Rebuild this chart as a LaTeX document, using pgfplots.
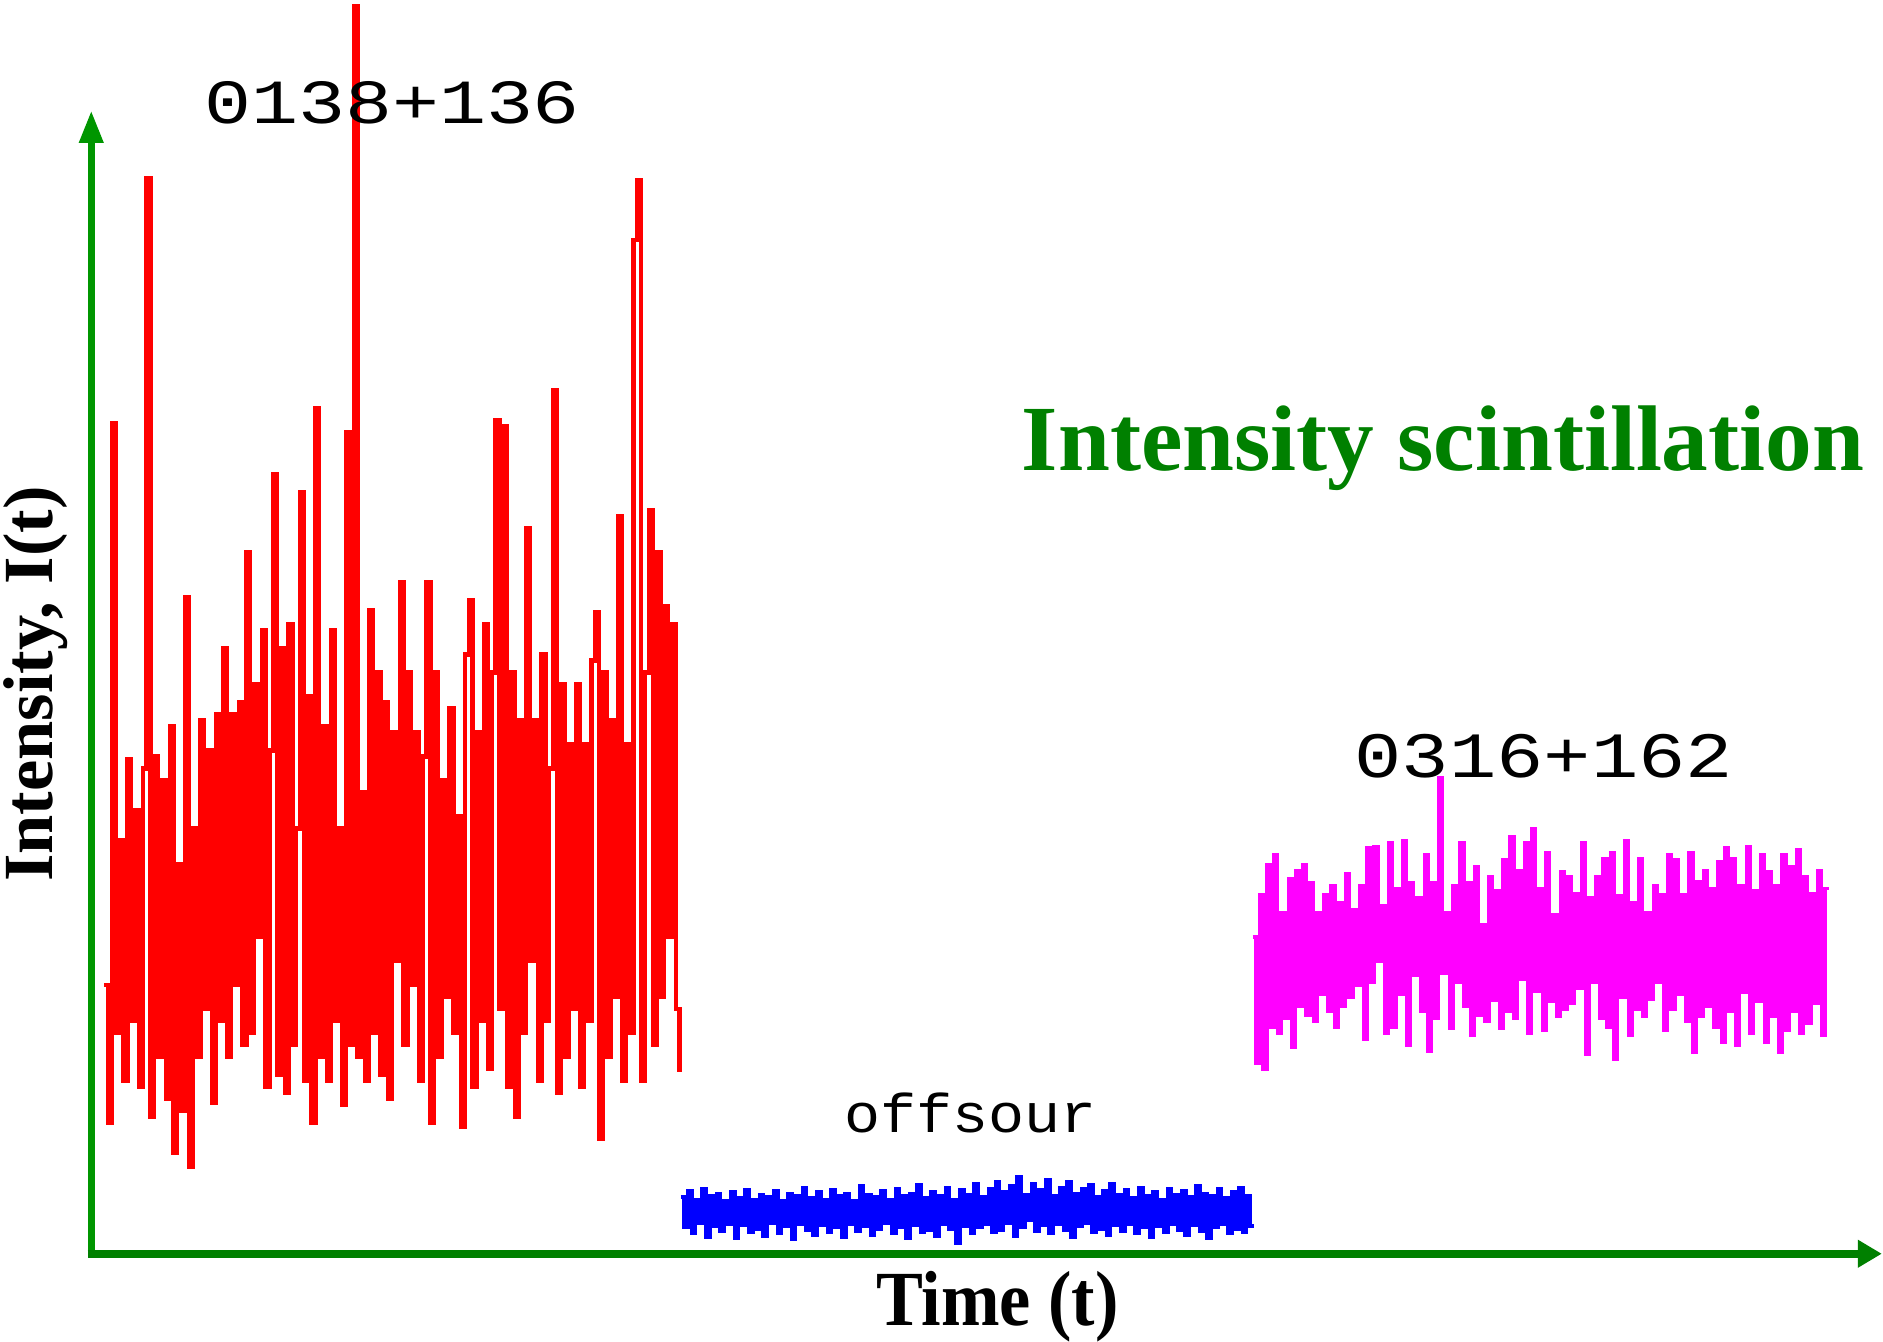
\documentclass[border=0pt]{standalone}
\usepackage{graphicx}
\usepackage{fontspec}
\setmainfont{Liberation Serif}
\newfontfamily\pix{Liberation Mono}
\usepackage{pgfplots}
\usepackage{pgfplotstable}
\pgfplotsset{compat=1.18}
\usetikzlibrary{arrows.meta}
\definecolor{axgreen}{RGB}{0,128,0}
\definecolor{yaxgreen}{RGB}{0,150,0}
\definecolor{mag}{RGB}{255,0,255}

\pgfplotstableread[row sep=\\, header=false]{
820\\935\\352\\860\\700\\900\\632\\850\\675\\905\\
640\\148\\930\\630\\880\\650\\915\\605\\960\\720\\
925\\497\\972\\690\\880\\600\\840\\625\\918\\595\\
850\\540\\880\\595\\820\\585\\870\\460\\860\\570\\
780\\525\\905\\625\\395\\895\\540\\910\\520\\870\\
690\\410\\900\\580\\935\\340\\880\\605\\900\\525\\
850\\690\\920\\360\\870\\5\\880\\660\\900\\508\\
860\\560\\895\\585\\915\\610\\800\\485\\870\\560\\
820\\610\\900\\630\\485\\935\\560\\880\\650\\830\\
590\\860\\680\\938\\545\\500\\905\\610\\850\\520\\
890\\560\\350\\840\\355\\905\\560\\930\\600\\860\\
440\\800\\600\\900\\545\\850\\640\\325\\910\\570\\
880\\620\\840\\570\\905\\620\\850\\550\\510\\948\\
560\\880\\600\\830\\430\\900\\620\\860\\200\\150\\
900\\560\\425\\870\\460\\830\\505\\780\\520\\840\\
893\\
}\redtab

\pgfplotstableread[row sep=\\, header=false]{
997\\1022\\992\\1027\\999\\1018\\990\\1030\\996\\1021\\
994\\1025\\1000\\1019\\993\\1031\\998\\1020\\991\\1026\\
999\\1023\\995\\1029\\997\\1018\\992\\1027\\1000\\1021\\
994\\1032\\996\\1019\\989\\1024\\998\\1028\\993\\1020\\
999\\1026\\991\\1022\\996\\1030\\994\\1019\\1000\\1025\\
988\\1021\\995\\1028\\997\\1023\\992\\1018\\999\\1027\\
990\\1022\\996\\1031\\994\\1020\\987\\1026\\998\\1024\\
993\\1029\\996\\1019\\989\\1023\\999\\1035\\991\\1021\\
995\\1027\\986\\1022\\997\\1019\\990\\1026\\984\\1024\\
993\\1018\\988\\1029\\980\\1022\\995\\1016\\986\\1025\\
991\\1020\\983\\1027\\996\\1019\\989\\1024\\984\\1030\\
994\\1021\\990\\1018\\987\\1026\\997\\1023\\992\\1028\\
986\\1020\\995\\1025\\991\\1019\\998\\1027\\989\\1022\\
996\\1030\\993\\1021\\999\\1026\\990\\1019\\995\\1024\\
992\\1028\\997\\1020\\988\\1025\\994\\1031\\996\\1022\\
990\\1019\\998\\1027\\993\\1023\\989\\1026\\996\\1021\\
1021\\
}\bluetab

\pgfplotstableread[row sep=\\, header=false]{
780\\885\\745\\890\\720\\855\\712\\860\\760\\848\\
732\\872\\725\\838\\720\\845\\735\\850\\760\\828\\
745\\842\\738\\855\\752\\838\\728\\830\\758\\820\\
738\\865\\706\\818\\705\\800\\754\\860\\702\\855\\
740\\828\\700\\870\\735\\812\\748\\842\\712\\875\\
735\\848\\648\\810\\760\\856\\738\\818\\702\\838\\
735\\862\\722\\845\\770\\850\\730\\833\\742\\856\\
716\\842\\697\\848\\725\\815\\702\\860\\690\\825\\
740\\858\\710\\834\\762\\846\\726\\840\\730\\835\\
744\\823\\702\\878\\748\\818\\730\\848\\715\\855\\
710\\882\\746\\830\\700\\862\\752\\840\\715\\846\\
760\\832\\738\\818\\745\\858\\712\\840\\716\\828\\
745\\850\\710\\876\\734\\846\\725\\838\\740\\855\\
718\\868\\706\\842\\715\\870\\738\\826\\705\\860\\
742\\834\\712\\868\\726\\846\\738\\876\\712\\858\\
722\\842\\708\\860\\730\\852\\744\\835\\725\\862\\
740\\740\\
}\magtab

\begin{document}
\begin{tikzpicture}
\useasboundingbox (0,0) rectangle (15.68cm,11.17cm);
\begin{axis}[at={(0,0)}, anchor=south west,
  width=15.68cm, height=11.17cm, scale only axis,
  xmin=0, xmax=1568, ymin=0, ymax=1117, y dir=reverse,
  hide axis, clip=false]
\addplot[const plot, draw=red, line width=0.36mm, line cap=butt, line join=miter]
  table[x expr=87+3.193*\coordindex, y index=0] {\redtab};
\addplot[const plot, draw=blue, line width=0.34mm, line cap=butt, line join=miter]
  table[x expr=567+2.98*\coordindex, y index=0] {\bluetab};
\addplot[const plot, draw=mag, line width=0.3mm, line cap=butt, line join=miter]
  table[x expr=1043+2.98*\coordindex, y index=0] {\magtab};

% axes
\draw[yaxgreen, line width=0.6mm, -{Triangle[length=2.7mm,width=1.9mm]}]
  (axis cs:76,1047) -- (axis cs:76,92);
\draw[axgreen, line width=0.7mm, -{Triangle[length=2.0mm,width=2.2mm]}]
  (axis cs:73,1044) -- (axis cs:1567,1044);

% labels
\node[inner sep=0pt] at (axis cs:326.5,85.5)
  {\resizebox{31.3mm}{3.5mm}{\pix 0138+136}};
\node[inner sep=0pt] at (axis cs:808,926.5)
  {\resizebox{21.0mm}{3.3mm}{\pix offsour}};
\node[inner sep=0pt] at (axis cs:1285.5,630)
  {\resizebox{31.5mm}{3.6mm}{\pix 0316+162}};

\node[inner sep=0pt, anchor=base east, text=axgreen] at (axis cs:1553,392)
  {\fontsize{22.1}{26}\selectfont\bfseries Intensity scintillation};
\node[inner sep=0pt, anchor=base] at (axis cs:830.5,1104)
  {\scalebox{0.9}[1]{\fontsize{18.5}{22}\selectfont\bfseries Time (t)}};
\node[inner sep=0pt, anchor=base, rotate=90] at (axis cs:44,569.5)
  {\fontsize{16.7}{20}\selectfont\bfseries Intensity, I(t)};
\end{axis}
\end{tikzpicture}
\end{document}
